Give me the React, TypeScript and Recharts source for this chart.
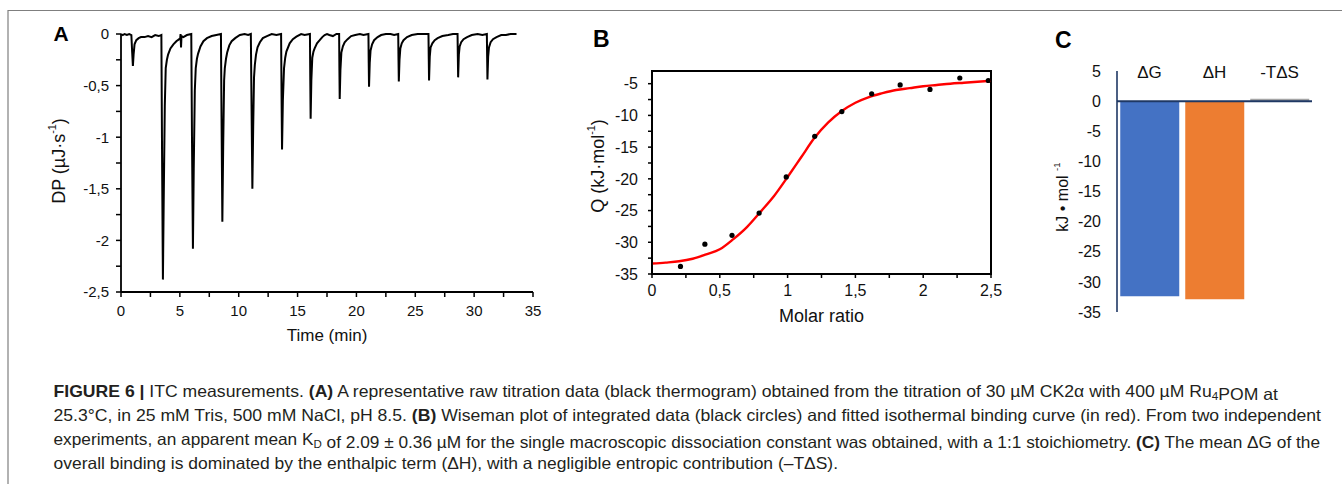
import React from 'react';
import {
  LineChart, Line, XAxis, YAxis, ComposedChart, Scatter, BarChart, Bar, Cell,
  ReferenceLine, ReferenceArea, Label,
} from 'recharts';

const FONT = '"Liberation Sans", Arial, Helvetica, sans-serif';
const INK = '#111111';

// ---------- Panel A: raw thermogram ----------
const thermoTime = [
  0, 0.15, 0.3, 0.5, 0.7, 0.88, 0.95, 1.01, 1.07, 1.15, 1.3, 1.5, 1.7, 2.0, 2.3, 2.6, 2.9, 3.2,
  3.43, 3.49, 3.56, 3.63, 3.72, 3.8, 3.9, 4.0, 4.2, 4.45, 4.7, 4.95, 5.03, 5.06, 5.1, 5.14, 5.3, 5.6,
  5.97, 6.03, 6.11, 6.18, 6.27, 6.35, 6.45, 6.55, 6.75, 7.0, 7.3, 7.7, 8.1,
  8.49, 8.54, 8.61, 8.68, 8.76, 8.82, 8.92, 9.02, 9.2, 9.4, 9.7, 10.1, 10.5, 10.8,
  11.03, 11.09, 11.16, 11.23, 11.3, 11.37, 11.47, 11.6, 11.8, 12.05, 12.4, 12.8, 13.2,
  13.6, 13.64, 13.68, 13.75, 13.85, 13.95, 14.05, 14.33, 14.6, 14.9, 15.3, 15.6,
  16.05, 16.08, 16.11, 16.17, 16.25, 16.35, 16.45, 16.65, 16.88, 17.1, 17.3, 17.5, 17.7, 18.0, 18.3,
  18.53, 18.555, 18.58, 18.64, 18.72, 18.85, 19.0, 19.25, 19.55, 19.9, 20.3, 20.6,
  21.02, 21.045, 21.07, 21.13, 21.2, 21.33, 21.5, 21.8, 22.1, 22.5, 22.9, 23.2,
  23.55, 23.575, 23.6, 23.66, 23.73, 23.85, 24.0, 24.3, 24.7, 25.2, 25.6,
  26.12, 26.145, 26.17, 26.23, 26.3, 26.45, 26.65, 26.9, 27.3, 27.8, 28.2,
  28.59, 28.615, 28.64, 28.7, 28.77, 28.9, 29.1, 29.4, 29.8, 30.3, 30.7,
  31.08, 31.105, 31.13, 31.19, 31.26, 31.4, 31.6, 31.9, 32.3, 32.7, 33.1, 33.6,
];
const thermoDP = [
  0, -0.01, 0, -0.01, 0, -0.01, -0.18, -0.31, -0.2, -0.1, -0.06, -0.04, -0.03, -0.03, -0.02, -0.03, -0.01, -0.02,
  -0.01, -1.2, -2.38, -1.6, -0.7, -0.33, -0.25, -0.2, -0.14, -0.1, -0.07, -0.05, -0.04, 0, -0.13, -0.02, -0.03, -0.01,
  0, -1.0, -2.08, -1.3, -0.55, -0.33, -0.24, -0.19, -0.12, -0.07, -0.04, -0.02, -0.01,
  0, -0.8, -1.82, -1.1, -0.45, -0.33, -0.24, -0.18, -0.11, -0.07, -0.04, -0.01, 0, -0.01,
  0, -0.7, -1.5, -0.9, -0.42, -0.3, -0.2, -0.13, -0.08, -0.04, -0.02, 0, -0.01,
  0, -0.6, -1.12, -0.65, -0.33, -0.23, -0.17, -0.09, -0.05, -0.025, 0, -0.01,
  0, -0.45, -0.82, -0.45, -0.23, -0.17, -0.14, -0.09, -0.06, -0.03, -0.01, 0, -0.01, -0.02, 0,
  0, -0.35, -0.63, -0.35, -0.18, -0.12, -0.08, -0.05, -0.02, -0.01, 0, -0.01,
  0, -0.28, -0.51, -0.28, -0.16, -0.1, -0.06, -0.03, -0.01, 0, 0, -0.01,
  0, -0.25, -0.46, -0.25, -0.14, -0.09, -0.06, -0.03, -0.01, 0, 0,
  0, -0.24, -0.45, -0.22, -0.13, -0.09, -0.06, -0.04, -0.02, -0.01, 0,
  0, -0.22, -0.42, -0.2, -0.12, -0.08, -0.05, -0.03, -0.01, 0, -0.01,
  0, -0.23, -0.44, -0.22, -0.13, -0.08, -0.05, -0.03, -0.01, -0.01, 0, 0,
];
const aXTicks = [0, 2.5, 5, 7.5, 10, 12.5, 15, 17.5, 20, 22.5, 25, 27.5, 30, 32.5, 35];
const aXLabels = ['0', '', '5', '', '10', '', '15', '', '20', '', '25', '', '30', '', '35'];
const aYTicks = [0, -0.25, -0.5, -0.75, -1, -1.25, -1.5, -1.75, -2, -2.25, -2.5];
const aYLabels = ['0', '', '-0,5', '', '-1', '', '-1,5', '', '-2', '', '-2,5'];

// ---------- Panel B: Wiseman plot ----------
const bRatio = [0.21, 0.39, 0.59, 0.79, 0.99, 1.2, 1.4, 1.62, 1.83, 2.05, 2.27, 2.48];
const bQ = [-33.8, -30.3, -28.9, -25.4, -19.7, -13.3, -9.4, -6.6, -5.2, -5.9, -4.1, -4.5];
const bFitRatio = [0, 0.1, 0.2, 0.3, 0.4, 0.5, 0.6, 0.7, 0.8, 0.9, 1.0, 1.1, 1.2, 1.3, 1.4, 1.5, 1.6, 1.7, 1.8, 1.9, 2.0, 2.1, 2.2, 2.3, 2.4, 2.5];
const bFitQ = [-33.35, -33.2, -33.0, -32.6, -31.9, -31.1, -29.5, -27.6, -25.2, -22.7, -19.7, -16.6, -13.5, -11.1, -9.3, -8.0, -7.1, -6.5, -6.0, -5.7, -5.4, -5.2, -5.0, -4.85, -4.7, -4.55];
const bXTicks = [0, 0.25, 0.5, 0.75, 1, 1.25, 1.5, 1.75, 2, 2.25, 2.5];
const bXLabels = ['0', '', '0,5', '', '1', '', '1,5', '', '2', '', '2,5'];
const bYTicks = [-35, -32.5, -30, -27.5, -25, -22.5, -20, -17.5, -15, -12.5, -10, -7.5, -5];
const bYLabels = ['-35', '', '-30', '', '-25', '', '-20', '', '-15', '', '-10', '', '-5'];

// ---------- Panel C: thermodynamic signature ----------
const cCategories = ['\u0394G', '\u0394H', '-T\u0394S'];
const cValues = [-32.4, -32.9, 0.4];
const cColors = ['#4472C4', '#ED7D31', '#A5A5A5'];
const cYTicks = [5, 0, -5, -10, -15, -20, -25, -30, -35];

// ---------- Caption ----------
type Seg = { t: string; b?: boolean; sub?: boolean };
const captionLines: { segs: Seg[]; width: number }[] = [
  {
    width: 1224.5,
    segs: [
      { t: 'FIGURE 6 | ', b: true },
      { t: 'ITC measurements. ' },
      { t: '(A)', b: true },
      { t: ' A representative raw titration data (black thermogram) obtained from the titration of 30 \u00b5M CK2\u03b1 with 400 \u00b5M Ru' },
      { t: '4', sub: true },
      { t: 'POM at' },
    ],
  },
  {
    width: 1267.5,
    segs: [
      { t: '25.3\u00b0C, in 25 mM Tris, 500 mM NaCl, pH 8.5. ' },
      { t: '(B)', b: true },
      { t: ' Wiseman plot of integrated data (black circles) and fitted isothermal binding curve (in red). From two independent' },
    ],
  },
  {
    width: 1266.5,
    segs: [
      { t: 'experiments, an apparent mean K' },
      { t: 'D', sub: true },
      { t: ' of 2.09 \u00b1 0.36 \u00b5M for the single macroscopic dissociation constant was obtained, with a 1:1 stoichiometry. ' },
      { t: '(C)', b: true },
      { t: ' The mean \u0394G of the' },
    ],
  },
  {
    width: 784.5,
    segs: [
      { t: 'overall binding is dominated by the enthalpic term (\u0394H), with a negligible entropic contribution (\u2013T\u0394S).' },
    ],
  },
];
const captionBaselines = [397, 421, 445, 468.5];

const aData = thermoTime.map((t, i) => ({ t, dp: thermoDP[i] }));
const bPoints = bRatio.map((x, i) => ({ x, q: bQ[i] }));
const bFit = bFitRatio.map((x, i) => ({ x, q: bFitQ[i] }));
const cData = cCategories.map((name, i) => ({ name, v: cValues[i] }));

const lab = (ticks: number[], labels: string[]) => {
  const m = new Map<number, string>();
  ticks.forEach((t, i) => m.set(t, labels[i]));
  return (v: number) => m.get(v) ?? '';
};

function VLabel({ x, y, size, main, sup, tail }: any) {
  return (
    <text
      x={x}
      y={y}
      transform={`rotate(-90 ${x} ${y})`}
      textAnchor="middle"
      dominantBaseline="central"
      fontFamily={FONT}
      fontSize={size}
      fill={INK}
    >
      {main}
      <tspan fontSize={size * 0.6} dy={-size * 0.38}>{sup}</tspan>
      <tspan dy={size * 0.38}>{tail}</tspan>
    </text>
  );
}

const CatTick = (props: any) => {
  const { x, y, payload } = props;
  return (
    <text x={x} y={y} dy={7} textAnchor="middle" fontFamily={FONT} fontSize={17} fill={INK}>
      {payload.value}
    </text>
  );
};

const axisBlack = { stroke: '#000', strokeWidth: 1.8 };
const tickBlack = { stroke: '#000', strokeWidth: 1.5 };

export default function App() {
  return (
    <div style={{ position: 'absolute', left: 0, top: 0, width: 1342, height: 484, background: '#fff', fontFamily: FONT }}>
      <svg width={1342} height={484} style={{ position: 'absolute', left: 0, top: 0 }}>
        <line x1={8} y1={10.5} x2={1342} y2={10.5} stroke="#7f7f7f" strokeWidth={1.2} />
        <line x1={8} y1={10} x2={8} y2={484} stroke="#7f7f7f" strokeWidth={1.2} />
        <text x={53.5} y={41} fontFamily={FONT} fontWeight="bold" fontSize={21} fill="#000">A</text>
        <text x={593} y={47.3} fontFamily={FONT} fontWeight="bold" fontSize={23} fill="#000">B</text>
        <text x={1055} y={48} fontFamily={FONT} fontWeight="bold" fontSize={23} fill="#000">C</text>
        {captionLines.map((line, li) => (
          <text
            key={li}
            x={53.5}
            y={captionBaselines[li]}
            textLength={line.width}
            lengthAdjust="spacingAndGlyphs"
            fontFamily={FONT}
            fontSize={16.5}
            fill="#231f20"
            style={{ whiteSpace: 'pre' }}
          >
            {line.segs.map((s, si) => {
              if (s.sub) {
                return (
                  <React.Fragment key={si}>
                    <tspan fontSize={11} dy={3}>{s.t}</tspan>
                    <tspan dy={-3}>{''}</tspan>
                  </React.Fragment>
                );
              }
              return (
                <tspan key={si} fontWeight={s.b ? 'bold' : 'normal'}>{s.t}</tspan>
              );
            })}
          </text>
        ))}
      </svg>

      {/* Panel A */}
      <div style={{ position: 'absolute', left: 0, top: 0 }}>
        <LineChart width={560} height={350} data={aData} margin={{ top: 34, right: 27, bottom: 8, left: 0 }}>
          <XAxis
            dataKey="t"
            type="number"
            domain={[0, 35]}
            ticks={aXTicks}
            interval={0}
            tickFormatter={lab(aXTicks, aXLabels)}
            axisLine={axisBlack}
            tickLine={tickBlack}
            tickSize={5}
            tickMargin={8}
            height={50}
            tick={{ fontSize: 15, fill: INK, fontFamily: FONT }}
          >
            <Label
              content={() => (
                <text x={327} y={341} textAnchor="middle" fontFamily={FONT} fontSize={17} fill={INK}>Time (min)</text>
              )}
            />
          </XAxis>
          <YAxis
            type="number"
            domain={[-2.5, 0]}
            ticks={aYTicks}
            interval={0}
            tickFormatter={lab(aYTicks, aYLabels)}
            axisLine={axisBlack}
            tickLine={tickBlack}
            tickSize={5}
            tickMargin={7}
            width={121}
            tick={{ fontSize: 15, fill: INK, fontFamily: FONT }}
          >
            <Label content={() => <VLabel x={59} y={161} size={18} main={'DP (\u00b5J\u00b7s'} sup="-1" tail=")" />} />
          </YAxis>
          <Line type="linear" dataKey="dp" stroke="#000" strokeWidth={2} dot={false} isAnimationActive={false} />
        </LineChart>
      </div>

      {/* Panel B */}
      <div style={{ position: 'absolute', left: 560, top: 0 }}>
        <ComposedChart width={450} height={350} margin={{ top: 71, right: 19, bottom: 26, left: 0 }}>
          <XAxis
            dataKey="x"
            type="number"
            domain={[0, 2.5]}
            ticks={bXTicks}
            interval={0}
            tickFormatter={lab(bXTicks, bXLabels)}
            axisLine={axisBlack}
            tickLine={tickBlack}
            tickSize={4}
            tickMargin={7}
            height={50}
            tick={{ fontSize: 16, fill: INK, fontFamily: FONT }}
            allowDuplicatedCategory={false}
          >
            <Label
              content={() => (
                <text x={261.5} y={321.7} textAnchor="middle" fontFamily={FONT} fontSize={18} fill={INK}>Molar ratio</text>
              )}
            />
          </XAxis>
          <YAxis
            type="number"
            domain={[-35, -3]}
            ticks={bYTicks}
            interval={0}
            tickFormatter={lab(bYTicks, bYLabels)}
            axisLine={axisBlack}
            tickLine={tickBlack}
            tickSize={4}
            tickMargin={10}
            width={92}
            tick={{ fontSize: 16, fill: INK, fontFamily: FONT }}
          >
            <Label content={() => <VLabel x={38} y={166} size={18} main={'Q (kJ\u00b7mol'} sup="-1" tail=")" />} />
          </YAxis>
          <ReferenceArea x1={0} x2={2.5} y1={-35} y2={-3} fill="none" fillOpacity={0} stroke="#000" strokeWidth={2} ifOverflow="visible" />
          <Line data={bFit} type="monotone" dataKey="q" stroke="#ff0000" strokeWidth={2.4} dot={false} isAnimationActive={false} />
          <Scatter
            data={bPoints}
            dataKey="q"
            fill="#000"
            isAnimationActive={false}
            shape={(p: any) => <circle cx={p.cx} cy={p.cy} r={2.6} fill="#000" />}
          />
        </ComposedChart>
      </div>

      {/* Panel C */}
      <div style={{ position: 'absolute', left: 1000, top: 0 }}>
        <BarChart width={342} height={350} data={cData} margin={{ top: 61, right: 30, bottom: 38, left: 0 }} barCategoryGap="5%">
          <XAxis
            dataKey="name"
            orientation="top"
            axisLine={false}
            tickLine={false}
            tickSize={0}
            tickMargin={0}
            height={10}
            interval={0}
            tick={<CatTick />}
          />
          <YAxis
            type="number"
            domain={[-35, 5]}
            ticks={cYTicks}
            interval={0}
            axisLine={{ stroke: '#1f3864', strokeWidth: 1.6 }}
            tickLine={false}
            tickSize={0}
            tickMargin={16}
            width={117}
            tick={{ fontSize: 16, fill: INK, fontFamily: FONT }}
          >
            <Label content={() => <VLabel x={62} y={197} size={16} main={'kJ \u2022 mol '} sup="-1" tail="" />} />
          </YAxis>
          <Bar dataKey="v" isAnimationActive={false}>
            {cData.map((d, i) => (
              <Cell key={d.name} fill={cColors[i]} />
            ))}
          </Bar>
          <ReferenceLine y={0} stroke="#1f3864" strokeWidth={2} />
        </BarChart>
      </div>
    </div>
  );
}
